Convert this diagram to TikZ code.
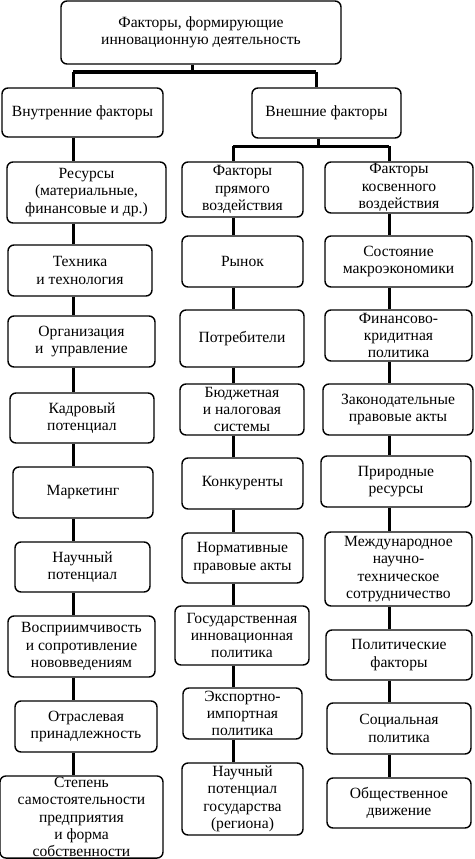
\documentclass[tikz,border=0pt]{standalone}
\usepackage{fontspec}
\setmainfont{Liberation Serif}
\begin{document}
\begin{tikzpicture}[x=1pt,y=-1pt,
  box/.style={draw=black,line width=1.4pt,rounded corners=6pt,align=center,inner sep=1pt,
    font=\fontsize{15.6}{17.4}\selectfont},
  conn/.style={draw=black,line width=3pt}]
\useasboundingbox (0,0) rectangle (474,859);
\newcommand{\bx}[6]{\node[box,minimum width=#4,minimum height=#5] (#1) at (#2,#3) {#6};}
\bx{top}{201}{32.5}{280}{63}{Факторы, формирующие\\инновационную деятельность}
\bx{int}{82.5}{112.5}{161}{49}{Внутренние факторы}
\bx{ext}{326.5}{113}{149}{50}{Внешние факторы}
\bx{res}{86.5}{192.5}{159}{61}{Ресурсы\\(материальные,\\финансовые и др.)}
\bx{pr}{242.5}{189.5}{121}{55}{Факторы\\прямого\\воздействия}
\bx{ks}{399}{187.5}{148}{51}{Факторы\\косвенного\\воздействия}
\bx{tech}{80}{270.5}{144}{51}{Техника\\и технология}
\bx{rynok}{242.5}{261.5}{121}{51}{Рынок}
\bx{sost}{398.5}{261.5}{147}{51}{Состояние\\макроэкономики}
\bx{org}{81.5}{341.5}{147}{51}{Организация\\и~~управление}
\bx{potr}{242}{338.5}{124}{57}{Потребители}
\bx{fin}{398.5}{335.5}{147}{51}{Финансово-\\кридитная\\политика}
\bx{kadr}{82}{418}{144}{50}{Кадровый\\потенциал}
\bx{budg}{242}{409.5}{124}{51}{Бюджетная\\и налоговая\\системы}
\bx{zakon}{398}{409.5}{150}{51}{Законодательные\\правовые акты}
\bx{market}{83}{492.5}{140}{51}{Маркетинг}
\bx{konk}{242.5}{483.5}{121}{51}{Конкуренты}
\bx{prir}{396}{481.5}{150}{51}{Природные\\ресурсы}
\bx{nauch}{82.5}{567}{135}{50}{Научный\\потенциал}
\bx{norm}{242.5}{558}{121}{50}{Нормативные\\правовые акты}
\bx{mezhd}{398.5}{569}{147}{74}{Международное\\научно-\\техническое\\сотрудничество}
\bx{vospr}{81.5}{646.5}{147}{61}{Восприимчивость\\и сопротивление\\нововведениям}
\bx{gos}{242}{635.5}{134}{59}{Государственная\\инновационная\\политика}
\bx{polit}{399}{655}{146}{50}{Политические\\факторы}
\bx{otr}{86}{726.5}{142}{51}{Отраслевая\\принадлежность}
\bx{exp}{242.5}{713.5}{119}{51}{Экспортно-\\импортная\\политика}
\bx{soc}{399}{728.5}{144}{51}{Социальная\\политика}
\bx{stepen}{81.5}{817}{163}{82}{Степень\\самостоятельности\\предприятия\\и форма\\собственности}
\bx{nauchgos}{242.5}{799}{121}{72}{Научный\\потенциал\\государства\\(региона)}
\bx{obsh}{399}{803}{144}{50}{Общественное\\движение}
% column coordinates
\coordinate (L) at (73,0);
\coordinate (M) at (233,0);
\coordinate (R) at (389,0);
\coordinate (T) at (192,0);
\coordinate (E) at (316,0);
\coordinate (E2) at (318,0);
\coordinate (h1) at (0,72);
\coordinate (h2) at (0,146);
% top bracket
\draw[conn] (top.south -| T) -- (h1 -| T);
\draw[conn] (h1 -| L) -- (h1 -| E);
\draw[conn] (h1 -| L) -- (int.north -| L);
\draw[conn] (h1 -| E) -- (ext.north -| E);
% ext bracket
\draw[conn] (ext.south -| E2) -- (h2 -| E2);
\draw[conn] (h2 -| M) -- (h2 -| R);
\draw[conn] (h2 -| M) -- (pr.north -| M);
\draw[conn] (h2 -| R) -- (ks.north -| R);
% left chain
\draw[conn] (int.south -| L) -- (res.north -| L);
\foreach \a/\b in {res/tech,tech/org,org/kadr,kadr/market,market/nauch,nauch/vospr,vospr/otr,otr/stepen}
  \draw[conn] (\a.south -| L) -- (\b.north -| L);
\foreach \a/\b in {pr/rynok,rynok/potr,potr/budg,budg/konk,konk/norm,norm/gos,gos/exp,exp/nauchgos}
  \draw[conn] (\a.south -| M) -- (\b.north -| M);
\foreach \a/\b in {ks/sost,sost/fin,fin/zakon,zakon/prir,prir/mezhd,mezhd/polit,polit/soc,soc/obsh}
  \draw[conn] (\a.south -| R) -- (\b.north -| R);
\end{tikzpicture}
\end{document}
